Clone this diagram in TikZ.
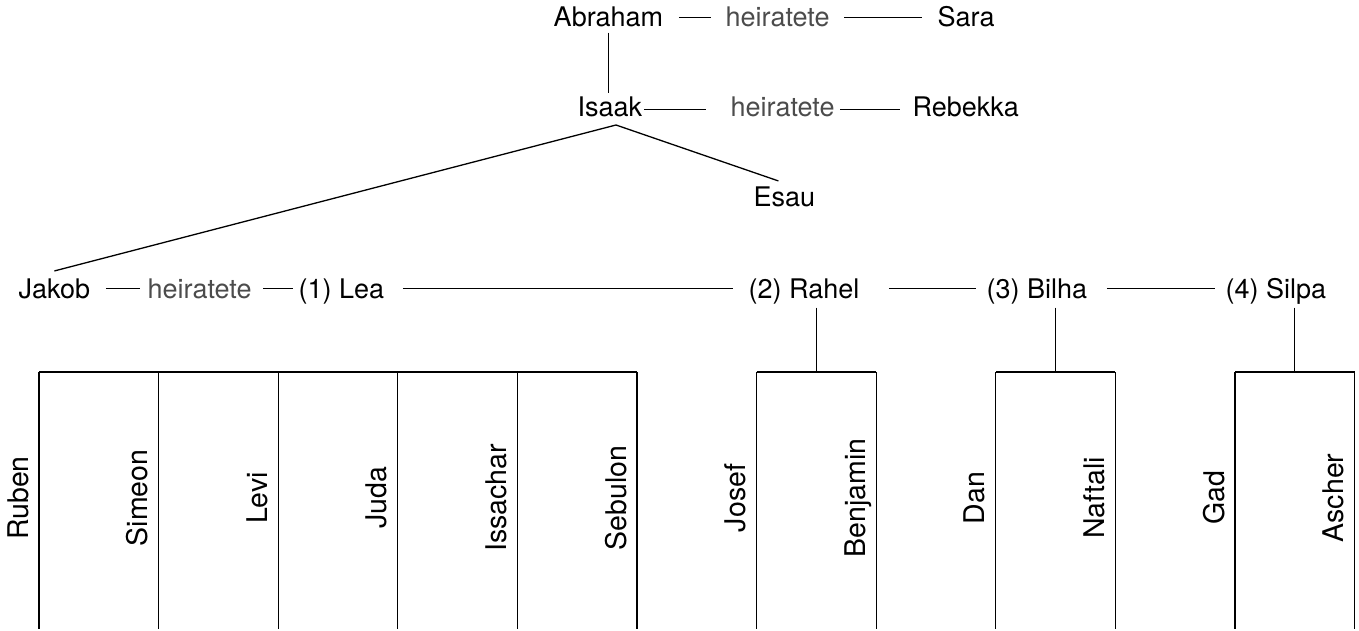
\documentclass[tikz,border=0pt]{standalone}
\usepackage{fontspec}
\setmainfont{TeX Gyre Heros}
\usepackage{tikz}

\tikzset{
  person/.style={inner sep=0pt, text height=19.4pt, text depth=0pt, anchor=base west, font=\fontsize{27}{32}\selectfont},
  wed/.style={person, text=black!70},
  kid/.style={person, rotate=90, anchor=base, font=\fontsize{28.5}{34}\selectfont},
}

\begin{document}
\begin{tikzpicture}[x=1pt, y=-1pt, line width=1.3pt]
\useasboundingbox (0,0) rectangle (1359,631);
% Abraham and Isaak
\node[person] (abraham) at (553,27) {Abraham};
\node[wed] (wed1) at (725,27) {heiratete};
\node[person] (sara) at (937,27) {Sara};
\node[person] (isaak) at (577,117) {Isaak};
\node[wed] (wed2) at (730,117) {heiratete};
\node[person] (rebekka) at (912,117) {Rebekka};
\node[person] (esau) at (753,207) {Esau};
\draw ([xshift=15]abraham.east) -- ([xshift=-14]wed1.west);
\draw ([xshift=14]wed1.east) -- ([xshift=-15]sara.west);
\draw ([xshift=1,yshift=-2.5]isaak.east) -- ([xshift=-24,yshift=-2.5]wed2.west);
\draw ([xshift=5,yshift=-2.5]wed2.east) -- ([xshift=-12,yshift=-2.5]rebekka.west);
\draw (abraham.south) ++(0,5) -- ++(0,60);
% Jakob and his wives
\node[person] (jakob) at (18,298) {Jakob};
\node[wed] (wed3) at (147,298) {heiratete};
\node[person] (lea) at (298,298) {(1) Lea};
\node[person] (rahel) at (748,298) {(2) Rahel};
\node[person] (bilha) at (986,298) {(3) Bilha};
\node[person] (silpa) at (1225,298) {(4) Silpa};
\coordinate (fork) at (616,125);
\draw ([xshift=-6]esau.north) ++(0,-6) -- (fork) -- ([yshift=7]jakob.north);
\draw ([xshift=15]jakob.east) -- ([xshift=-7]wed3.west);
\draw ([xshift=11]wed3.east) -- ([xshift=-5]lea.west);
\draw ([xshift=18]lea.east) -- ([xshift=-15]rahel.west);
\draw ([xshift=29]rahel.east) -- ([xshift=-10]bilha.west);
\draw ([xshift=19]bilha.east) -- ([xshift=-10]silpa.west);
% the twelve sons
\foreach \k/\n in {0/Ruben,1/Simeon,2/Levi,3/Juda,4/Issachar,5/Sebulon,
                   6/Josef,7/Benjamin,8/Dan,9/Naftali,10/Gad,11/Ascher} {
  \draw (39+119.6*\k,372) -- (39+119.6*\k,629);
  \node[kid] (\n) at (28+119.6*\k,498) {\n};
}
\foreach \a/\b/\m in {0/5/lea, 6/7/rahel, 8/9/bilha, 10/11/silpa} {
  \draw (39+119.6*\a,372) -- (39+119.6*\b,372);
  \coordinate (\m kids) at ({39+119.6*(\a+\b)/2},372);
}
\foreach \m in {rahel, bilha, silpa}
  \draw (\m kids |- \m.south) ++(0,9) -- (\m kids);
\end{tikzpicture}
\end{document}
